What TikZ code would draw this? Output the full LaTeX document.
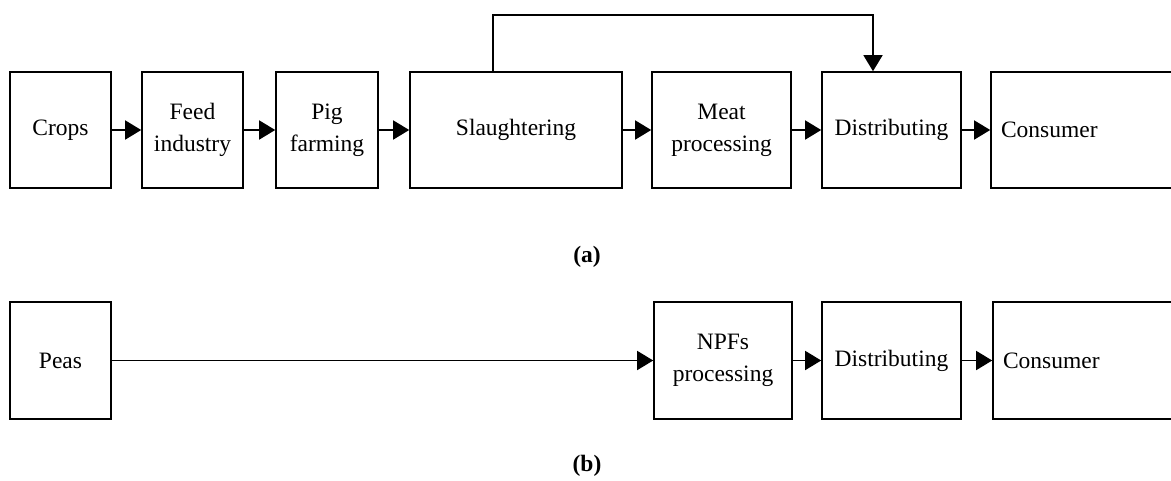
\documentclass[tikz,border=0pt]{standalone}
\usepackage{fontspec}
\setmainfont{Liberation Serif}
\usetikzlibrary{arrows.meta}
\begin{document}
\begin{tikzpicture}
[
    x=1pt, y=-1pt,
    stage/.style={draw, line width=1.6pt, minimum height=116pt, align=center,
        inner sep=0pt, font=\fontsize{23.5}{32}\selectfont},
    flow/.style={line width=1.5pt, -{Triangle[length=16pt,width=19pt]}},
    caption/.style={font=\fontsize{23.5}{28}\selectfont\bfseries},
]
\useasboundingbox (0,0) rectangle (1171,480);
\clip (0,0) rectangle (1171,480);
% (a) pork chain
\node[stage, minimum width=101pt] (crops) at (60.5,130) {Crops};
\node[stage, minimum width=101pt] (feed) at (192.5,130) {Feed\\industry};
\node[stage, minimum width=102pt] (pig) at (327,130) {Pig\\farming};
\node[stage, minimum width=212pt] (slaugh) at (516,130) {Slaughtering};
\node[stage, minimum width=139pt] (meat) at (721.5,130) {Meat\\processing};
\node[stage, minimum width=139pt] (dist) at (891.5,130) {Distributing};
\node[stage, minimum width=200pt, text width=180pt, align=left] (cons) at (1091,130) {Consumer};
\draw[flow] (crops) -- (feed);
\draw[flow] (feed) -- (pig);
\draw[flow] (pig) -- (slaugh);
\draw[flow] (slaugh) -- (meat);
\draw[flow] (meat) -- (dist);
\draw[flow] (dist) -- (cons);
\coordinate (top1) at (493,15);
\coordinate (top2) at (873,15);
\draw[flow] (slaugh.north -| top1) -- (top1) -- (top2) -- (dist.north -| top2);
\node[caption] (capa) at (587,257) {(a)};
% (b) pea chain
\node[stage, minimum width=101pt, minimum height=117pt] (peas) at (60.5,360.5) {Peas};
\node[stage, minimum width=138pt, minimum height=117pt] (npf) at (723,360.5) {NPFs\\processing};
\node[stage, minimum width=139pt, minimum height=117pt] (distb) at (891.5,360.5) {Distributing};
\node[stage, minimum width=200pt, minimum height=117pt, text width=180pt, align=left] (consb) at (1093,360.5) {Consumer};
\draw[flow] (peas) -- (npf);
\draw[flow] (npf) -- (distb);
\draw[flow] (distb) -- (consb);
\node[caption] (capb) at (587,466) {(b)};
\end{tikzpicture}
\end{document}
